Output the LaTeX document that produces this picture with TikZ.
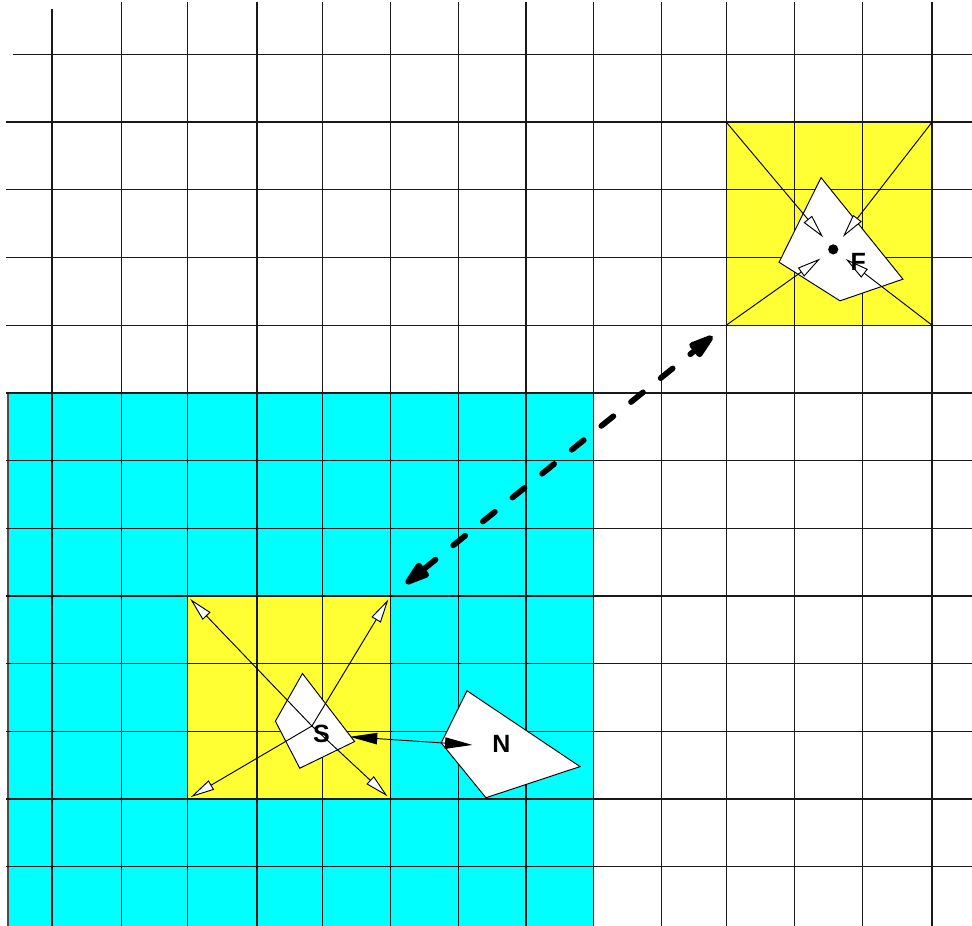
\documentclass[tikz,border=0pt]{standalone}
\usepackage{fontspec}
\newfontfamily\lblfont{Liberation Sans}
\usetikzlibrary{arrows.meta}
\definecolor{cellcyan}{RGB}{0,255,255}
\definecolor{cellyellow}{RGB}{255,255,51}

\begin{document}
\begin{tikzpicture}[
    grid line/.style={black!90, line width=0.55pt},
    cellpoly/.style={fill=white, draw=black, line width=0.4pt},
    probe/.style={line width=0.4pt, -{Triangle[length=10pt, width=4.5pt, fill=white]}},
    lbl/.style={font=\lblfont\bfseries\fontsize{10.5}{12}\selectfont, inner sep=0pt}]
    \useasboundingbox (0.232,0.126) rectangle (14.59,13.804);

    % coloured regions
    \fill[cellcyan] (0.35,0.126) rectangle (9,8);
    \draw[black!70, line width=0.8pt] (0.35,0.126) -- (0.35,8);
    \fill[cellyellow] (3,2) rectangle (6,5);
    \fill[cellyellow] (10.96,9) rectangle (14,12);

    % grid
    \draw[grid line] (1,0.126) -- (1,13.67);
    \foreach \x in {2.03,3,4.03,5,6,7,8,9,10,10.96,11.97,12.97,14}
        \draw[grid line] (\x,0.126) -- (\x,13.77);
    \foreach \y in {1,...,12}
        \draw[grid line] (0.32,\y) -- (14.59,\y);
    \draw[grid line] (0.42,13) -- (14.59,13);

    \coordinate (S-sw) at (3,2);
    \coordinate (S-se) at (6,2);
    \coordinate (S-nw) at (3,5);
    \coordinate (S-ne) at (6,5);
    \coordinate (F-sw) at (10.96,9);
    \coordinate (F-se) at (14,9);
    \coordinate (F-nw) at (10.96,12);
    \coordinate (F-ne) at (14,12);

    % far cell
    \draw[cellpoly] (12.36,11.18) -- (13.57,9.68) -- (12.64,9.36) -- (11.74,9.93) -- cycle;
    \node[circle, fill, inner sep=0pt, minimum size=0.15cm] (Fdot) at (12.54,10.12) {};
    \foreach \c in {F-nw,F-ne,F-sw,F-se}
        \draw[probe, shorten >=0.15cm] (\c) -- (Fdot);
    \node[lbl] (F) at (12.91,9.94) {F};

    % source and neighbour cells
    \draw[cellpoly] (4.70,3.855) -- (5.47,2.85) -- (4.66,2.456) -- (4.30,3.15) -- cycle;
    \draw[cellpoly] (7.13,3.60) -- (8.80,2.48) -- (7.41,2.02) -- (6.75,2.83) -- cycle;
    \coordinate (Sorig) at (4.84,3.08);
    \foreach \c in {S-nw,S-ne,S-sw,S-se}
        \draw[probe, shorten >=0.06cm] (Sorig) -- (\c);
    \node[lbl] (S) at (4.98,2.97) {S};
    \node[lbl] (N) at (7.64,2.81) {N};

    \coordinate (SN-s) at (5.40,2.92);
    \coordinate (SN-n) at (7.21,2.80);
    \draw[line width=0.4pt, {Triangle[length=11.5pt, width=4.8pt]}-{Triangle[length=11.5pt, width=4.8pt]}]
        (SN-s) -- (SN-n);

    % long range link
    \draw[line width=2.4pt, line cap=round, dash pattern=on 6.5pt off 9.5pt,
          shorten <=0.29cm, shorten >=0.26cm,
          {Triangle[length=13.5pt, width=7.5pt, round]}-{Triangle[length=13.5pt, width=7.5pt, round]}]
        (S-ne) -- (F-sw);
\end{tikzpicture}
\end{document}
